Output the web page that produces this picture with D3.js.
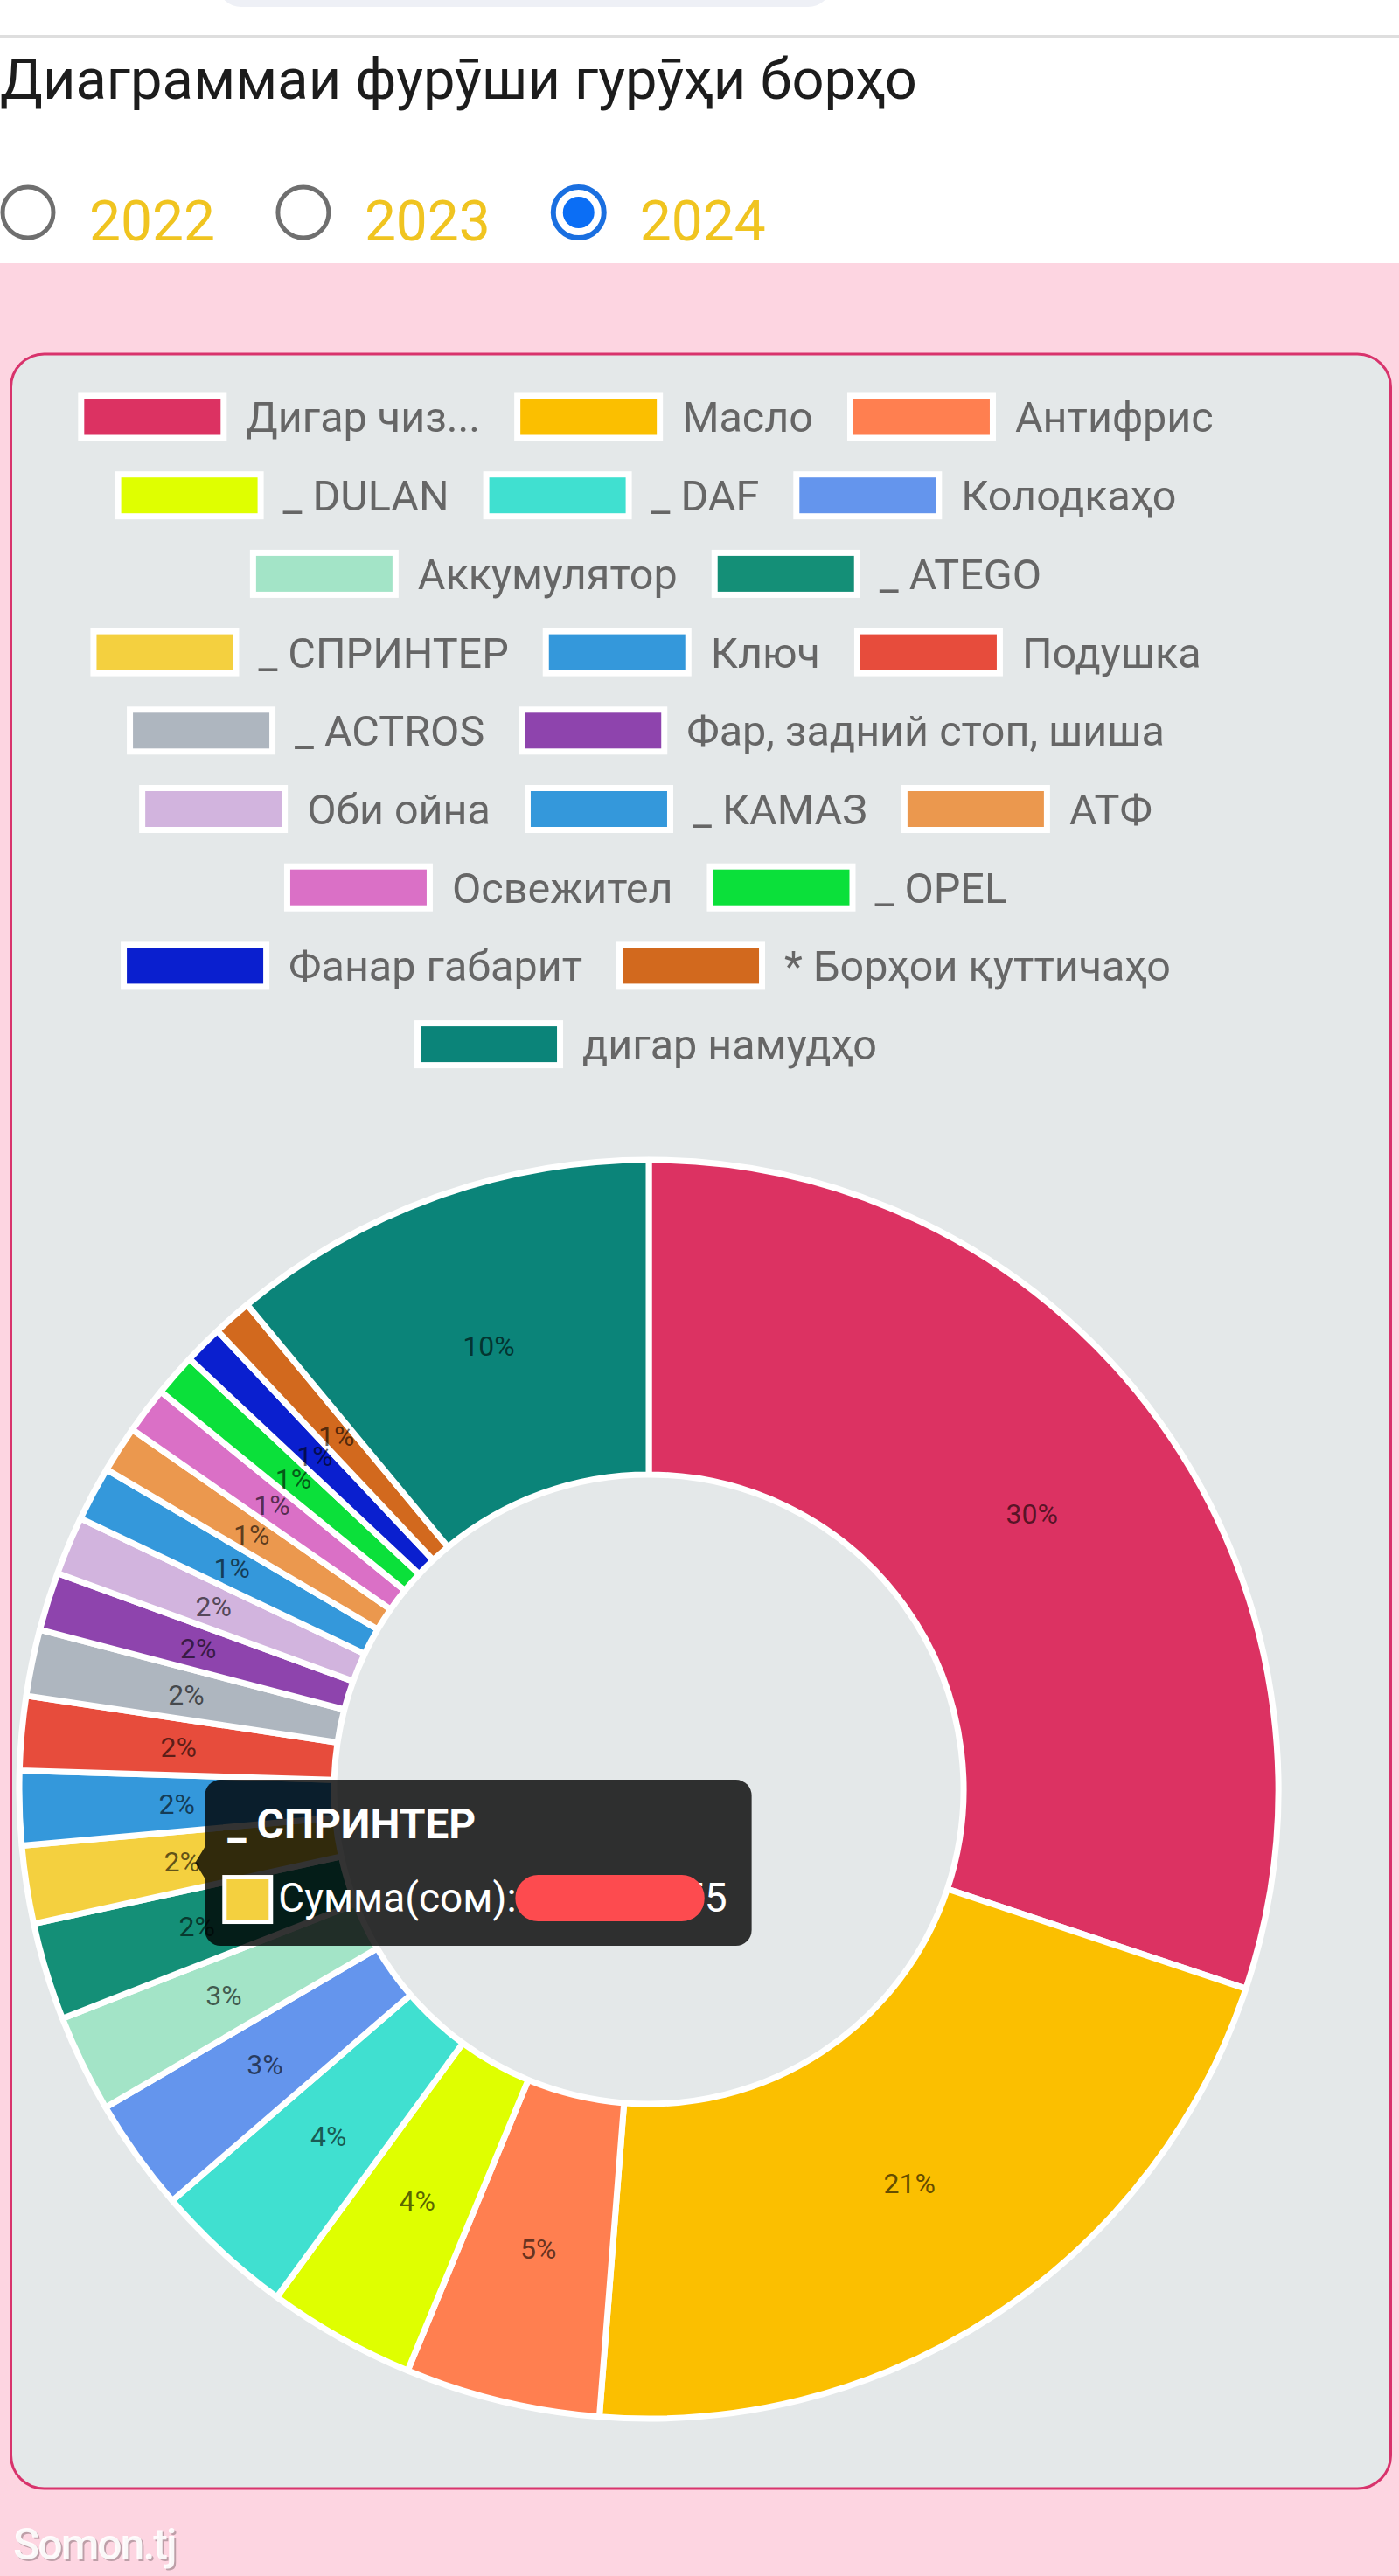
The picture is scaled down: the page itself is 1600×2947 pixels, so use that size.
<!DOCTYPE html>
<html>
<head>
<meta charset="utf-8">
<script src="https://cdn.jsdelivr.net/npm/d3@7"></script>
<style>
  body { margin: 0; background: #fff; }
  text { font-family: Roboto, "Noto Sans", "DejaVu Sans", sans-serif; }
</style>
</head>
<body>
<div id="chart"></div>
<script>
// Page size
var width  = 1600;
var height = 2947;

// Chart data (share of sales, %)
var labels = ["Дигар чиз...", "Масло", "Антифрис", "_ DULAN", "_ DAF", "Колодкаҳо",
    "Аккумулятор", "_ ATEGO", "_ СПРИНТЕР", "Ключ", "Подушка", "_ ACTROS",
    "Фар, задний стоп, шиша", "Оби ойна", "_ КАМАЗ", "АТФ", "Освежител", "_ OPEL",
    "Фанар габарит", "* Борҳои қуттичаҳо", "дигар намудҳо"];
var values = [30.1, 21.1, 5.0, 3.8, 3.6, 2.9, 2.5, 2.5, 2.0, 1.9, 1.9, 1.7,
    1.5, 1.5, 1.4, 1.2, 1.2, 1.1, 1.0, 1.0, 11.0];
// percent labels as printed on the slices
var pctLabels = ["30%", "21%", "5%", "4%", "4%", "3%", "3%", "2%", "2%", "2%", "2%", "2%",
    "2%", "2%", "1%", "1%", "1%", "1%", "1%", "1%", "10%"];
var colors = ["#dc3262", "#fbbf00", "#ff7f50", "#dfff00", "#40e0d0", "#6495ed",
    "#a3e4c7", "#148f77", "#f4d03f", "#3498db", "#e74c3c", "#aeb6bf",
    "#8e44ad", "#d2b4de", "#3498db", "#eb984e", "#da70c6", "#0be03a",
    "#0a1fcf", "#d2691e", "#0b8479"];
var years = ["2022", "2023", "2024"];
var selectedYear = "2024";
var tooltipIndex = 8;
var tooltipField = "Сумма(сом):";
var tooltipValue = "14 353 755";

// legend rows (how many items per line)
var legendRows = [3, 3, 2, 3, 2, 3, 2, 2, 1];

var svg = d3.select("#chart").append("svg")
    .attr("width", width)
    .attr("height", height);

// Header
svg.append("rect").attr("width", width).attr("height", height).attr("fill", "#fff");
svg.append("rect")
    .attr("x", 250).attr("y", -40).attr("width", 700).attr("height", 48)
    .attr("rx", 26).attr("fill", "#eef0f6");
svg.append("rect")
    .attr("x", 0).attr("y", 40).attr("width", width).attr("height", 4)
    .attr("fill", "#dedede");

svg.append("text")
    .attr("x", 0).attr("y", 113)
    .attr("font-size", "65px")
    .attr("fill", "#1c1c1c")
    .text("Диаграммаи фурӯши гурӯҳи борҳо");

// Year radio buttons
var rx = 32;
years.forEach(function(y) {
    var sel = y === selectedYear;
    svg.append("circle")
        .attr("cx", rx).attr("cy", 243).attr("r", 29)
        .attr("fill", "#fff")
        .attr("stroke", sel ? "#1a6fe0" : "#6f6f6f")
        .attr("stroke-width", sel ? 6 : 5);
    if (sel) {
        svg.append("circle")
            .attr("cx", rx).attr("cy", 243).attr("r", 18)
            .attr("fill", "#0b6ef5");
    }
    var t = svg.append("text")
        .attr("x", rx + 70).attr("y", 275)
        .attr("font-size", "64px")
        .attr("fill", "#f0c420")
        .text(y);
    rx = rx + 70 + t.node().getComputedTextLength() + 101;
});

// Pink area and card
svg.append("rect")
    .attr("x", 0).attr("y", 301).attr("width", width).attr("height", height - 301)
    .attr("fill", "#fdd5e1");
svg.append("rect")
    .attr("x", 12.5).attr("y", 405).attr("width", 1578).attr("height", 2442)
    .attr("rx", 38)
    .attr("fill", "#e4e8e9")
    .attr("stroke", "#d8336c")
    .attr("stroke-width", 3);

var cx = 742, cy = 2047;

// Legend
var boxW = 156, boxH = 41, textGap = 29, itemPad = 46;
var legend = svg.append("g").attr("class", "legend");
var start = 0;
legendRows.forEach(function(n, r) {
    var row = legend.append("g");
    var x = 0;
    d3.range(start, start + n).forEach(function(i) {
        var item = row.append("g").attr("transform", "translate(" + x + ",0)");
        item.append("rect")
            .attr("x", -3.5).attr("y", -boxH / 2 - 3.5)
            .attr("width", boxW + 7).attr("height", boxH + 7)
            .attr("fill", colors[i])
            .attr("stroke", "#fff")
            .attr("stroke-width", 7);
        var t = item.append("text")
            .attr("x", boxW + textGap).attr("y", 0)
            .attr("dy", "0.36em")
            .attr("font-size", "48.5px")
            .attr("fill", "#666")
            .text(labels[i]);
        x += boxW + textGap + t.node().getComputedTextLength() + itemPad;
    });
    start += n;
    var rowW = x - itemPad;
    row.attr("transform", "translate(" + (cx - rowW / 2) + "," + (477 + r * 89.7) + ")");
});

// Donut
var pie = d3.pie().sort(null).value(function(d) { return d; });
var arcs = pie(values);
var arc = d3.arc().innerRadius(360).outerRadius(720);
var labelArc = d3.arc().innerRadius(540).outerRadius(540);

var donut = svg.append("g").attr("transform", "translate(" + cx + "," + cy + ")");
donut.selectAll("path")
    .data(arcs)
    .enter()
    .append("path")
    .attr("d", arc)
    .attr("fill", function(d, i) { return colors[i]; })
    .attr("stroke", "#fff")
    .attr("stroke-width", 7)
    .attr("stroke-linejoin", "bevel");

donut.selectAll("text.pct")
    .data(arcs)
    .enter()
    .append("text")
    .attr("class", "pct")
    .attr("transform", function(d) { return "translate(" + labelArc.centroid(d) + ")"; })
    .attr("text-anchor", "middle")
    .attr("dy", "0.36em")
    .attr("font-size", "32px")
    .attr("fill", "rgba(0,0,0,0.62)")
    .text(function(d, i) { return pctLabels[i]; });

// Tooltip for the hovered slice
var tp = labelArc.centroid(arcs[tooltipIndex]);
var tipX = cx + tp[0] + 15, tipY = cy + tp[1] + 2;
var tip = svg.append("g").attr("transform", "translate(" + (tipX + 11) + "," + tipY + ")");
var tipBg = tip.append("rect").attr("y", -95).attr("height", 190).attr("rx", 18)
    .attr("fill", "rgba(0,0,0,0.8)");
tip.append("path").attr("d", "M0,-18L-11,0L0,18Z").attr("fill", "rgba(0,0,0,0.8)");
var tt = tip.append("text")
    .attr("x", 26).attr("y", -28)
    .attr("font-size", "48px").attr("font-weight", "bold")
    .attr("fill", "#fff")
    .text(labels[tooltipIndex]);
tip.append("rect")
    .attr("x", 22.5).attr("y", 16.5).attr("width", 53).attr("height", 51)
    .attr("fill", colors[tooltipIndex])
    .attr("stroke", "#fff").attr("stroke-width", 5);
var body = tip.append("text")
    .attr("x", 84).attr("y", 56)
    .attr("font-size", "46px")
    .attr("fill", "#fff")
    .text(tooltipField + " " + tooltipValue);
var bodyLen = body.node().getComputedTextLength();
var boxWidth = Math.max(bodyLen + 84, tt.node().getComputedTextLength() + 26) + 28;
tipBg.attr("width", boxWidth);
// value is hidden by a red scribble in the reference
var fieldLen = body.node().getSubStringLength(0, tooltipField.length - 1);
var lastLen = body.node().getSubStringLength(body.text().length - 1, 1);
tip.append("rect")
    .attr("x", 84 + fieldLen + 10).attr("y", 14)
    .attr("width", bodyLen - fieldLen - 10 - lastLen)
    .attr("height", 53).attr("rx", 26)
    .attr("fill", "#fd4b4f");

// Watermark
svg.append("text")
    .attr("x", 17).attr("y", 2930)
    .attr("font-size", "50px").attr("font-weight", 500)
    .attr("letter-spacing", "-2px")
    .attr("fill", "rgba(0,0,0,0.25)")
    .text("Somon.tj");
svg.append("text")
    .attr("x", 15).attr("y", 2928)
    .attr("font-size", "50px").attr("font-weight", 500)
    .attr("letter-spacing", "-2px")
    .attr("fill", "rgba(255,255,255,0.92)")
    .text("Somon.tj");
</script>
</body>
</html>
